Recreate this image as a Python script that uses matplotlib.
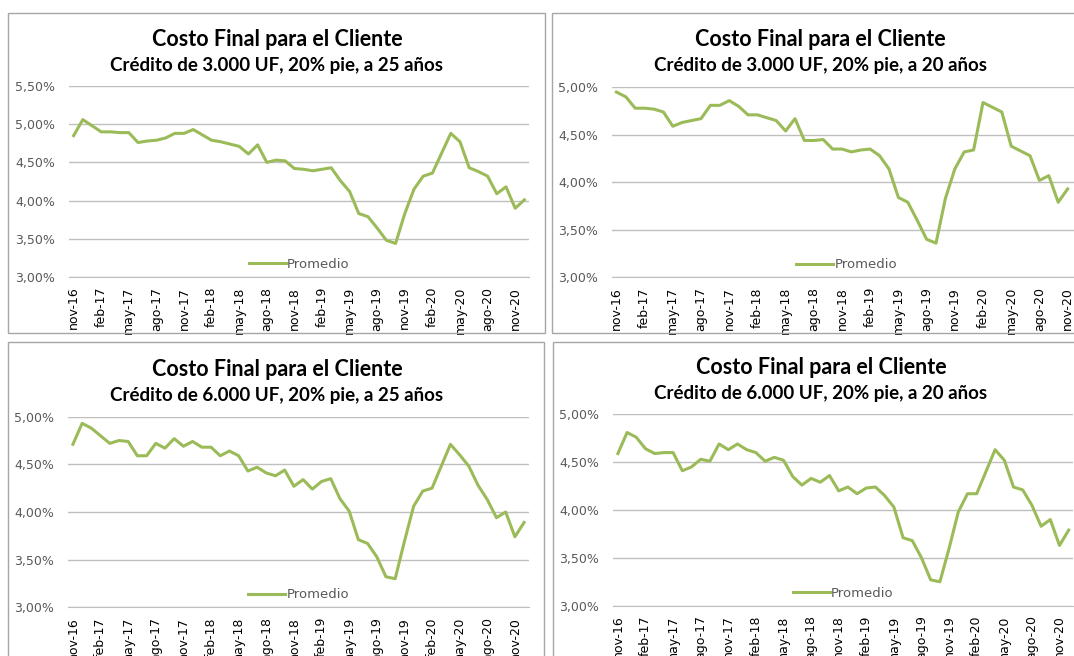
import matplotlib
matplotlib.use("Agg")
import matplotlib.pyplot as plt
from matplotlib.patches import Rectangle
from matplotlib.ticker import FuncFormatter, MultipleLocator

# months nov-16 .. dic-20
month_abbr = ["ene", "feb", "mar", "abr", "may", "jun", "jul", "ago", "sep", "oct", "nov", "dic"]
months = []
for k in range(50):
    m = (10 + k) % 12
    y = 16 + (10 + k) // 12
    months.append(f"{month_abbr[m]}-{y}")

# 3.000 UF, 25 años
uf3000_25 = [4.85, 5.06, 4.98, 4.90, 4.90, 4.89, 4.89, 4.76, 4.78, 4.79,
             4.82, 4.88, 4.88, 4.93, 4.86, 4.79, 4.77, 4.74, 4.71, 4.61,
             4.73, 4.50, 4.53, 4.52, 4.42, 4.41, 4.39, 4.41, 4.43, 4.26,
             4.12, 3.83, 3.79, 3.64, 3.48, 3.44, 3.83, 4.15, 4.32, 4.36,
             4.62, 4.88, 4.77, 4.43, 4.38, 4.32, 4.09, 4.18, 3.90, 4.01]
# 3.000 UF, 20 años (dic-20 fuera de la imagen)
uf3000_20 = [4.95, 4.90, 4.78, 4.78, 4.77, 4.74, 4.59, 4.63, 4.65, 4.67,
             4.81, 4.81, 4.86, 4.80, 4.71, 4.71, 4.68, 4.65, 4.54, 4.67,
             4.44, 4.44, 4.45, 4.35, 4.35, 4.32, 4.34, 4.35, 4.28, 4.14,
             3.84, 3.79, 3.60, 3.40, 3.36, 3.83, 4.14, 4.32, 4.34, 4.84,
             4.79, 4.74, 4.38, 4.33, 4.28, 4.02, 4.07, 3.79, 3.93]
# 6.000 UF, 25 años
uf6000_25 = [4.71, 4.93, 4.88, 4.80, 4.72, 4.75, 4.74, 4.59, 4.59, 4.72,
             4.67, 4.77, 4.69, 4.74, 4.68, 4.68, 4.59, 4.64, 4.59, 4.43,
             4.47, 4.41, 4.38, 4.44, 4.27, 4.34, 4.24, 4.32, 4.35, 4.14,
             4.01, 3.71, 3.67, 3.53, 3.32, 3.30, 3.69, 4.06, 4.22, 4.25,
             4.48, 4.71, 4.60, 4.48, 4.28, 4.13, 3.94, 4.00, 3.74, 3.89]
# 6.000 UF, 20 años
uf6000_20 = [4.59, 4.81, 4.76, 4.64, 4.59, 4.60, 4.60, 4.41, 4.45, 4.53,
             4.51, 4.69, 4.63, 4.69, 4.63, 4.60, 4.51, 4.55, 4.52, 4.35,
             4.26, 4.33, 4.29, 4.36, 4.20, 4.24, 4.17, 4.23, 4.24, 4.15,
             4.03, 3.71, 3.68, 3.50, 3.27, 3.25, 3.60, 3.98, 4.17, 4.17,
             4.40, 4.63, 4.52, 4.24, 4.21, 4.05, 3.83, 3.90, 3.63, 3.79]

panels = [
    # data, subtitle, ymax, axes rect (px), border (px), title center (px)
    (uf3000_25, "Crédito de 3.000 UF, 20% pie, a 25 años", 5.5,
     (69, 86, 529, 277), (8, 13, 545, 333), (277, 39)),
    (uf3000_20, "Crédito de 3.000 UF, 20% pie, a 20 años", 5.0,
     (611.7, 87.3, 1081.7, 277.3), (552, 13, 1090, 333), (820, 39)),
    (uf6000_25, "Crédito de 6.000 UF, 20% pie, a 25 años", 5.0,
     (68.3, 416.7, 528.7, 607.3), (8, 342, 544, 700), (277, 369)),
    (uf6000_20, "Crédito de 6.000 UF, 20% pie, a 20 años", 5.0,
     (613.3, 414.3, 1073.3, 605.7), (553, 342, 1090, 700), (821, 367)),
]

W, H = 1074, 656
fig = plt.figure(figsize=(W / 100, H / 100), dpi=100)
fig.patch.set_facecolor("white")

green = "#9bbb59"
grid_c = "#bfbfbf"
txt_c = "#595959"

pct = FuncFormatter(lambda v, p: f"{v:.2f}%".replace(".", ","))

for data, subtitle, ymax, (x0, y0, x1, y1), (bx0, by0, bx1, by1), (tx, ty) in panels:
    fig.add_artist(Rectangle((bx0 / W, 1 - by1 / H), (bx1 - bx0) / W, (by1 - by0) / H,
                             transform=fig.transFigure, fill=False,
                             edgecolor="#a6a6a6", linewidth=1.0))
    ax = fig.add_axes([x0 / W, 1 - y1 / H, (x1 - x0) / W, (y1 - y0) / H])
    ax.plot(range(len(data)), data, color=green, linewidth=2.2, label="Promedio")
    ax.set_xlim(-0.5, 49.5)
    ax.set_ylim(3.0, ymax)
    ax.yaxis.set_major_locator(MultipleLocator(0.5))
    ax.yaxis.set_major_formatter(pct)
    ax.grid(axis="y", color=grid_c, linewidth=1.0)
    ax.set_axisbelow(True)
    for s in ["top", "right", "left"]:
        ax.spines[s].set_visible(False)
    ax.spines["bottom"].set_color(grid_c)
    ax.set_xticks(range(0, 50, 3))
    ax.set_xticklabels(months[0:50:3], rotation=90)
    ax.tick_params(axis="y", length=0, pad=10, labelsize=9, labelcolor=txt_c)
    ax.tick_params(axis="x", length=0, pad=7, labelsize=9, labelcolor="#000000")
    ax.legend(loc="lower center", bbox_to_anchor=(0.5, -0.03), frameon=False,
              fontsize=9.5, handlelength=2.8, handletextpad=0.1,
              labelcolor=txt_c)
    fig.text(tx / W, 1 - ty / H, "Costo Final para el Cliente", ha="center", va="center",
             fontsize=15.5, fontweight="bold", family="Lato")
    fig.text(tx / W, 1 - (ty + 27) / H, subtitle, ha="center", va="center",
             fontsize=13.5, fontweight="bold", family="Lato")

fig.savefig("out.png", dpi=100)
